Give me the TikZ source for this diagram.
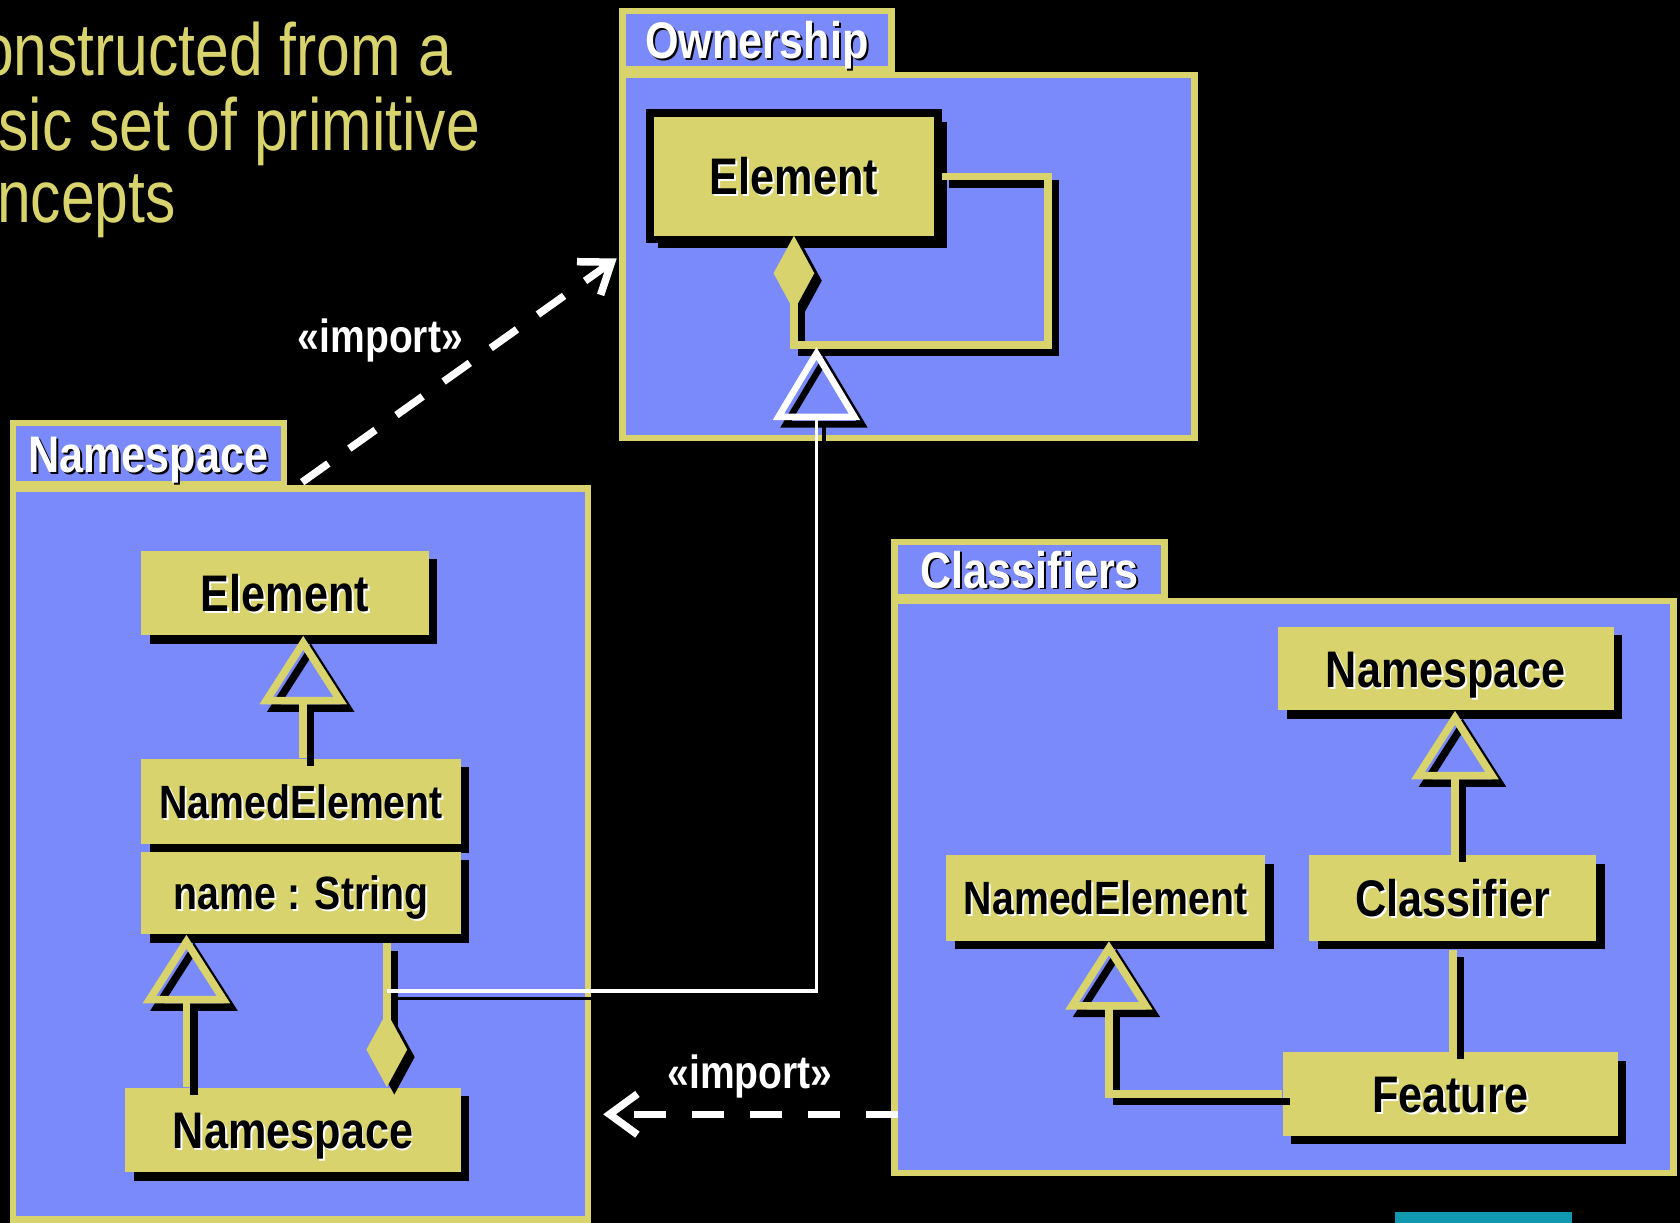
\documentclass[tikz,border=0pt]{standalone}
\usepackage{fontspec}
\usetikzlibrary{arrows.meta,shadows,calc}

\newfontfamily\narrowbold[FakeStretch=0.84]{Liberation Sans}
\newfontfamily\narrowreg[FakeStretch=0.82]{Liberation Sans}
\newcommand\boxfont{\narrowbold\bfseries\fontsize{24pt}{24pt}\selectfont}
\newcommand\attrfont{\narrowbold\bfseries\fontsize{21.8pt}{22pt}\selectfont}
\newcommand\labelfont{\narrowbold\bfseries\fontsize{21.7pt}{22pt}\selectfont}
\newcommand\slidefont{\narrowreg\fontsize{34.5pt}{35pt}\selectfont}

\definecolor{pkgblue}{RGB}{122,138,250}
\definecolor{umlyellow}{RGB}{216,211,108}
\definecolor{accentteal}{RGB}{16,152,176}

% text with an offset copy behind it: #1 front colour, #2 offset colour
\newcommand\duo[3]{\makebox[0pt][l]{\hspace{0.9pt}\raisebox{-0.9pt}{\color{#2}#3}}{\color{#1}#3}}

\begin{document}
\begin{tikzpicture}[x=0.5pt, y=-0.5pt,
  pkgframe/.style={draw=umlyellow, fill=pkgblue, line width=3pt, inner sep=0pt},
  pkgtab/.style={pkgframe, font=\boxfont, text height=17.3pt, text depth=0pt},
  boxshadow/.style={drop shadow={shadow xshift=4pt, shadow yshift=-4pt, opacity=1, fill=black}},
  classbox/.style 2 args={fill=umlyellow, inner sep=0pt, minimum width=#1, minimum height=#2,
    boxshadow, font=\boxfont, text height=17.3pt, text depth=0pt},
  attrbox/.style 2 args={classbox={#1}{#2}, font=\attrfont, text height=15.7pt},
  wire/.style={draw=umlyellow, line width=3.5pt,
    preaction={draw=black, line width=3.5pt, transform canvas={shift={(3.5pt,-3.5pt)}}}},
  genarrow/.style={wire, -{Triangle[open, length=32pt, width=40pt]}},
  comparrow/.style={wire, {Diamond[length=35pt, width=19pt]}-},
  wiregen/.style={draw=white, line width=1.5pt,
    preaction={draw=black, line width=1.5pt, transform canvas={shift={(3.5pt,-3.5pt)}}},
    -{Triangle[open, length=34pt, width=40pt, line width=3pt]}},
  importdep/.style={draw=white, line width=3.5pt, dash pattern=on 15pt off 12pt,
    -{Straight Barb[length=13pt, width=19pt]}},
  importlabel/.style={text=white, font=\labelfont, inner sep=0pt, text height=15.6pt, text depth=0pt},
  slide/.style={text=umlyellow, font=\slidefont, inner sep=0pt, anchor=base west}
]
\useasboundingbox (0,0) rectangle (1568,1141);
\clip (0,0) rectangle (1568,1141);
\fill[black] (0,0) rectangle (1568,1141);

% slide text
\node[slide] (line1) at (-19,70) {onstructed from a};
\node[slide] (line2) at (-2,140) {sic set of primitive};
\node[slide] (line3) at (-3,208) {ncepts};

% packages
\node[pkgtab, minimum width=125.5pt, minimum height=27.5pt] (owntab) at (706.5,37.5) {\duo{white}{black}{Ownership}};
\node[pkgframe, minimum width=267pt, minimum height=169.5pt] (own) at (848,239.5) {};

\node[pkgtab, minimum width=126.5pt, minimum height=28.5pt] (nstab) at (138.5,423.5) {\duo{white}{black}{Namespace}};
\node[pkgframe, minimum width=268.5pt, minimum height=341pt] (ns) at (280.5,797) {};

\node[pkgtab, minimum width=126pt, minimum height=25.5pt] (cltab) at (961,531.5) {\duo{white}{black}{Classifiers}};
\node[pkgframe, minimum width=363.5pt, minimum height=267pt] (cl) at (1198.5,828) {};

% classes
\node[classbox={134.5pt}{59pt}, draw=black, line width=3.5pt] (ownel) at (741,164.5) {\duo{black}{white}{Element}};

\node[classbox={134pt}{39.5pt}] (nsel) at (266,553.5) {\duo{black}{white}{Element}};
\node[attrbox={149pt}{40pt}] (nsnamed) at (281,748) {\duo{black}{white}{NamedElement}};
\node[attrbox={149pt}{38.5pt}] (nsname) at (281,833.5) {\duo{black}{white}{name : String}};
\node[classbox={156.5pt}{39.5pt}] (nsns) at (273.5,1054.5) {\duo{black}{white}{Namespace}};

\node[classbox={156.5pt}{39pt}] (clns) at (1349.5,624) {\duo{black}{white}{Namespace}};
\node[classbox={134pt}{40pt}] (clcl) at (1356,838) {\duo{black}{white}{Classifier}};
\node[attrbox={149pt}{40pt}] (clne) at (1032,838) {\duo{black}{white}{NamedElement}};
\node[classbox={156.5pt}{39pt}] (clfeat) at (1353.5,1021) {\duo{black}{white}{Feature}};

% connector guide coordinates
\coordinate (gx1) at (283,0);
\coordinate (gx2) at (174,0);
\coordinate (cx1) at (361,0);
\coordinate (gx3) at (1358,0);
\coordinate (ax1) at (1356,0);
\coordinate (gx4) at (1035,0);
\coordinate (loopc) at (978,322);
\coordinate (wj) at (361,925);
\coordinate (wtip) at (762,324);
\coordinate (imp1s) at (282,450);
\coordinate (imp2s) at (838,1040);

% ownership self association
\draw[comparrow] ([yshift=3.5pt]ownel.south) |- (loopc) |- (ownel.east);

% namespace package
\draw[genarrow] (nsnamed.north -| gx1) -- (nsel.south -| gx1);
\draw[genarrow] (nsns.north -| gx2) -- (nsname.south -| gx2);
\draw[comparrow, shorten >=4pt] (nsns.north -| cx1) -- (nsname.south -| cx1);

% classifiers package
\draw[genarrow] (clcl.north -| gx3) -- (clns.south -| gx3);
\draw[wire, shorten >=4pt] (clfeat.north -| ax1) -- (clcl.south -| ax1);
\draw[genarrow] (clfeat.west) -| (clne.south -| gx4);

% association generalization across packages
\draw[wiregen] (wj) -| (wtip);

% imports
\draw[importdep, shorten >=1.5pt] (imp1s) -- (own.west);
\draw[importdep, shorten >=5.5pt] (imp2s) -- (imp2s -| ns.east);
\node[importlabel] (implab1) at (355,313) {«import»};
\node[importlabel] (implab2) at (700,1000) {«import»};

% corner accent
\fill[accentteal] (1302,1131) rectangle (1467,1145);
\end{tikzpicture}
\end{document}
